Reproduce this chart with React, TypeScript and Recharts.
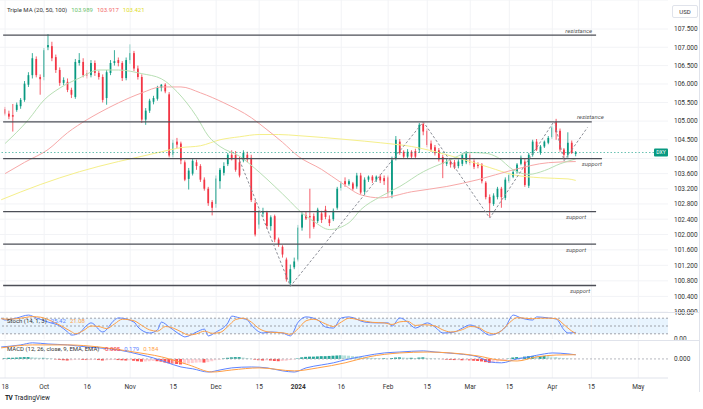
import React from "react";
import {
  Bar,
  CartesianGrid,
  Cell,
  ComposedChart,
  Line,
  ReferenceArea,
  ReferenceLine,
  XAxis,
  YAxis
} from "recharts";

const W = 703;
const PLOT_W = 668;
const AXIS_W = W - PLOT_W;
const X_DOMAIN: [number, number] = [-1.3, 169.6];
const GREEN = "#089981";
const RED = "#f23645";
const FONT = "Roboto, 'Noto Sans', sans-serif";

// daily DXY candles, one per weekday from Sep 18 2023: [open, high, low, close]
const candles: [number, number, number, number][] = [
  [105.32, 105.38, 105.15, 105.2], [105.2, 105.28, 105.05, 105.12], [105.16, 105.46, 104.72, 105.12],
  [105.3, 105.5, 105.25, 105.44], [105.4, 105.62, 105.33, 105.57], [105.57, 106.08, 105.52, 106.01],
  [105.98, 106.32, 105.92, 106.24], [106.24, 106.84, 106.15, 106.7], [106.68, 106.75, 106.18, 106.24],
  [106.19, 106.26, 105.71, 106.13], [106.19, 106.98, 106.1, 106.92], [107.0, 107.36, 106.92, 107.06],
  [107.03, 107.15, 106.62, 106.7], [106.73, 106.8, 106.3, 106.38], [106.38, 106.45, 105.95, 106.03],
  [106.03, 106.18, 105.97, 106.11], [106.06, 106.15, 105.78, 105.84], [105.84, 105.9, 105.62, 105.71],
  [105.65, 106.68, 105.6, 106.6], [106.57, 106.84, 106.5, 106.65], [106.6, 106.7, 106.18, 106.24],
  [106.3, 106.38, 106.15, 106.22], [106.24, 106.65, 106.18, 106.57], [106.57, 106.64, 106.22, 106.3],
  [106.3, 106.36, 106.12, 106.19], [106.19, 106.26, 105.5, 105.57], [105.62, 106.38, 105.44, 106.32],
  [106.3, 106.65, 106.24, 106.57], [106.57, 106.92, 106.5, 106.62], [106.65, 106.72, 106.48, 106.57],
  [106.57, 106.62, 106.08, 106.16], [106.16, 106.72, 106.1, 106.65], [106.65, 107.08, 106.55, 106.84],
  [106.84, 106.9, 106.35, 106.42], [106.42, 106.5, 106.12, 106.19], [106.19, 106.26, 104.95, 105.04],
  [105.04, 105.35, 104.9, 105.28], [105.28, 105.6, 105.22, 105.55], [105.52, 105.68, 105.45, 105.62],
  [105.6, 105.95, 105.55, 105.9], [105.9, 106.0, 105.8, 105.98], [105.98, 106.02, 105.75, 105.8],
  [105.72, 105.78, 104.03, 104.08], [104.1, 104.5, 104.03, 104.42], [104.45, 104.55, 104.28, 104.37],
  [104.4, 104.45, 103.85, 103.95], [103.9, 103.95, 103.4, 103.44], [103.46, 103.75, 103.18, 103.68],
  [103.6, 104.0, 103.55, 103.94], [103.9, 103.97, 103.7, 103.8], [103.8, 103.85, 103.38, 103.44],
  [103.44, 103.5, 103.15, 103.2], [103.2, 103.25, 102.75, 102.82], [102.85, 102.9, 102.5, 102.7],
  [102.8, 103.55, 102.7, 103.47], [103.4, 103.75, 103.2, 103.7], [103.62, 103.9, 103.55, 103.8],
  [103.85, 104.15, 103.8, 104.1], [104.1, 104.22, 103.95, 103.98], [104.1, 104.2, 103.65, 103.7],
  [103.9, 104.05, 103.5, 103.55], [103.95, 104.22, 103.9, 104.15], [104.1, 104.18, 103.9, 103.98],
  [104.02, 104.1, 102.85, 102.9], [102.82, 102.9, 101.95, 102.0], [102.26, 102.65, 102.15, 102.6],
  [102.55, 102.7, 102.45, 102.58], [102.58, 102.62, 102.15, 102.22], [102.22, 102.5, 102.1, 102.45],
  [102.48, 102.52, 101.8, 101.87], [101.87, 101.92, 101.68, 101.74], [101.68, 101.72, 101.4, 101.48],
  [101.35, 101.4, 100.78, 100.84], [100.74, 101.22, 100.66, 101.1], [101.15, 101.4, 101.1, 101.3],
  [101.35, 102.25, 101.3, 102.18], [102.18, 102.58, 102.1, 102.52], [102.5, 102.6, 102.38, 102.42],
  [102.48, 103.2, 101.9, 102.45], [102.48, 102.55, 102.15, 102.2], [102.35, 102.7, 102.3, 102.65],
  [102.55, 102.62, 102.3, 102.38], [102.65, 102.75, 102.4, 102.46], [102.4, 102.5, 102.22, 102.3],
  [102.4, 102.68, 102.35, 102.62], [102.7, 103.25, 102.65, 103.2], [103.22, 103.4, 103.15, 103.34],
  [103.4, 103.5, 103.25, 103.32], [103.32, 103.45, 103.28, 103.4], [103.34, 103.38, 103.15, 103.2],
  [103.26, 103.62, 103.2, 103.55], [103.55, 103.62, 103.05, 103.1], [103.12, 103.5, 103.05, 103.44],
  [103.44, 103.55, 103.38, 103.52], [103.52, 103.56, 103.35, 103.42], [103.44, 103.55, 103.38, 103.52],
  [103.52, 103.58, 103.35, 103.42], [103.48, 103.55, 103.3, 103.4], [103.5, 103.55, 102.98, 103.08],
  [103.05, 104.05, 102.95, 103.97], [104.0, 104.6, 103.95, 104.5], [104.45, 104.52, 104.1, 104.15],
  [104.18, 104.22, 104.0, 104.05], [104.05, 104.25, 104.0, 104.18], [104.18, 104.22, 104.0, 104.05],
  [104.2, 104.26, 104.0, 104.05], [104.24, 104.95, 104.15, 104.9], [104.92, 104.98, 104.62, 104.72],
  [104.74, 104.8, 104.3, 104.36], [104.4, 104.48, 104.18, 104.24], [104.3, 104.36, 104.08, 104.14],
  [104.22, 104.28, 103.92, 103.98], [104.04, 104.1, 103.48, 103.86], [103.86, 104.0, 103.8, 103.92],
  [103.92, 103.98, 103.76, 103.84], [103.9, 103.96, 103.72, 103.76], [103.8, 103.98, 103.74, 103.92],
  [103.86, 104.14, 103.8, 104.1], [103.9, 104.2, 103.85, 104.16], [104.1, 104.18, 103.82, 103.88],
  [103.92, 103.98, 103.72, 103.78], [103.84, 103.9, 103.74, 103.8], [103.84, 103.88, 103.34, 103.4],
  [103.36, 103.4, 102.92, 102.98], [102.98, 103.05, 102.45, 102.82], [102.8, 103.08, 102.75, 103.02],
  [102.98, 103.25, 102.92, 103.2], [103.2, 103.25, 102.7, 102.98], [102.96, 103.5, 102.9, 103.44],
  [103.4, 103.62, 103.35, 103.56], [103.52, 103.7, 103.48, 103.64], [103.64, 103.88, 103.6, 103.84],
  [103.86, 104.08, 103.82, 104.02], [103.92, 104.0, 103.25, 103.3], [103.28, 104.15, 103.22, 104.1],
  [104.1, 104.5, 104.05, 104.45], [104.45, 104.52, 104.2, 104.24], [104.16, 104.36, 104.1, 104.32],
  [104.32, 104.48, 104.28, 104.45], [104.42, 104.6, 104.38, 104.55], [104.57, 104.88, 104.52, 104.83],
  [104.97, 105.06, 104.5, 104.7], [104.74, 104.8, 104.18, 104.24], [104.24, 104.28, 103.97, 104.1],
  [104.1, 104.7, 104.02, 104.42], [104.42, 104.48, 104.12, 104.15], [104.12, 104.2, 104.06, 104.16]
];

// moving averages: [bar index, value]
const ma20Points: [number, number][] = [
  [0, 104.4], [6, 105.04], [10, 105.57], [14, 105.89], [19, 106.16], [24, 106.38], [29, 106.38],
  [35, 106.28], [40, 106.14], [44, 105.79], [49, 105.12], [52, 104.6], [55, 104.32], [60, 104.06],
  [65, 103.64], [69, 103.26], [73, 102.86], [75, 102.65], [79, 102.34], [83, 102.13], [88, 102.31],
  [91, 102.65], [96, 102.99], [101, 103.26], [107, 103.65], [113, 103.92], [119, 104.16],
  [123, 104.14], [126, 104.03], [130, 103.7], [134, 103.58], [138, 103.68], [142, 103.86], [146, 103.99]
];
const ma50Points: [number, number][] = [
  [0, 103.6], [5, 103.9], [11, 104.24], [16, 104.69], [21, 105.04], [24, 105.22], [29, 105.49],
  [35, 105.76], [40, 105.92], [45, 105.92], [50, 105.76], [56, 105.49], [63, 105.09], [67, 104.77],
  [71, 104.43], [75, 104.06], [81, 103.71], [86, 103.36], [91, 103.04], [96, 102.96], [104, 103.12],
  [113, 103.26], [121, 103.44], [130, 103.7], [139, 103.89], [146, 103.92]
];
const ma100Points: [number, number][] = [
  [-1, 102.91], [9, 103.31], [19, 103.65], [29, 103.92], [35, 104.06], [40, 104.18], [45, 104.29],
  [50, 104.34], [55, 104.5], [60, 104.58], [65, 104.64], [70, 104.64], [75, 104.61], [88, 104.5],
  [96, 104.42], [104, 104.32], [113, 104.1], [119, 103.92], [124, 103.76], [130, 103.57],
  [137, 103.49], [144, 103.46], [146, 103.42]
];
const zigzagPoints: [number, number][] = [
  [60, 103.95], [73, 100.66], [107, 104.98], [124, 102.43], [140.5, 105.0], [143, 103.94], [149, 104.83]
];

// horizontal support / resistance lines
const levelPrices = [107.33, 104.98, 104.0, 102.6, 101.75, 100.68];
const levelNames = ["resistance", "resistance", "support", "support", "support", "support"];
const levelEnds = [151.2, 150.1, 152.7, 151.2, 151.2, 151.2];
const levelLabelDx = [-4, 12, 0, -10, -10, -6];

const priceTicks = [
  100, 100.4, 100.8, 101.2, 101.6, 102, 102.4, 102.8, 103.2, 103.6, 104, 104.5, 105, 105.5, 106,
  106.5, 107, 107.5
];
const xTickIdx = [0, 10, 21, 32, 43, 54, 65, 75, 86, 98, 108, 119, 129, 140, 150, 162];
const xTickLabels = ["18", "Oct", "16", "Nov", "15", "Dec", "15", "2024", "16", "Feb", "15", "Mar", "15", "Apr", "15", "May"];

const stochK: [number, number][] = [
  [-1, 81], [0, 73], [3, 81], [6, 92], [8, 81], [11, 65], [14, 50], [16, 27], [17, 15], [19, 23],
  [21, 54], [22, 62], [25, 27], [28, 73], [29, 81], [33, 65], [34, 46], [37, 23], [39, 35], [40, 65],
  [42, 46], [45, 15], [46, 8], [49, 27], [51, 38], [52, 12], [54, 27], [57, 62], [58, 88], [60, 81],
  [62, 73], [63, 54], [66, 23], [68, 27], [71, 23], [73, 12], [75, 65], [77, 85], [80, 73], [82, 46],
  [84, 42], [86, 81], [88, 85], [92, 65], [95, 62], [98, 62], [99, 50], [101, 81], [103, 65], [105, 42],
  [108, 62], [110, 46], [112, 23], [115, 27], [117, 42], [119, 54], [121, 42], [124, 15], [126, 23],
  [128, 46], [130, 92], [132, 81], [135, 73], [136, 85], [139, 81], [141, 77], [143, 35], [144, 23],
  [146, 25.42]
];
const stochD: [number, number][] = [
  [-1, 78], [1, 76], [4, 80], [7, 86], [9, 84], [12, 68], [15, 45], [17, 28], [18, 20], [20, 32],
  [22, 50], [24, 48], [26, 40], [28, 58], [30, 76], [33, 70], [35, 52], [37, 35], [39, 30], [41, 48],
  [43, 42], [45, 28], [47, 15], [49, 20], [51, 30], [53, 22], [55, 25], [57, 48], [59, 75], [61, 80],
  [63, 65], [65, 40], [67, 28], [69, 25], [71, 24], [73, 18], [75, 40], [77, 70], [79, 76], [82, 58],
  [84, 48], [86, 65], [88, 80], [91, 72], [94, 64], [97, 62], [99, 56], [101, 66], [103, 68], [105, 52],
  [107, 55], [110, 50], [112, 35], [114, 27], [117, 36], [119, 48], [121, 45], [123, 28], [125, 20],
  [127, 32], [129, 62], [131, 82], [133, 80], [135, 78], [137, 80], [139, 80], [141, 78], [143, 55],
  [145, 30], [146, 21.08]
];

const macdLine: [number, number][] = [
  [-1, 0.52], [4, 0.61], [7, 0.7], [11, 0.65], [16, 0.61], [21, 0.52], [24, 0.48], [29, 0.39],
  [35, 0.17], [38, 0.04], [41, -0.13], [45, -0.35], [48, -0.43], [52, -0.57], [55, -0.48], [58, -0.39],
  [63, -0.35], [67, -0.39], [71, -0.52], [74, -0.57], [77, -0.39], [81, -0.26], [84, -0.17], [87, -0.04],
  [92, 0.13], [97, 0.26], [101, 0.3], [107, 0.35], [110, 0.3], [116, 0.22], [121, 0.09], [124, -0.13],
  [127, -0.17], [131, 0], [134, 0.09], [138, 0.22], [140, 0.26], [144, 0.22], [146, 0.179]
];
const macdSignal: [number, number][] = [
  [-1, 0.48], [7, 0.61], [16, 0.61], [24, 0.52], [33, 0.3], [40, 0.09], [47, -0.26], [53, -0.57],
  [58, -0.48], [65, -0.39], [74, -0.52], [80, -0.39], [87, -0.17], [93, 0.09], [101, 0.26], [108, 0.3],
  [114, 0.26], [121, 0.13], [126, -0.04], [131, -0.09], [136, 0.09], [141, 0.17], [146, 0.184]
];
// histogram, one value per bar
const macdHist = [
  0.04, 0.05, 0.05, 0.06, 0.07, 0.08, 0.08, 0.07, 0.06, 0.05,
  0.05, 0.04, 0.02, -0.02, -0.04, -0.06, -0.07, -0.06, -0.04, -0.03,
  -0.04, -0.05, -0.05, -0.04, -0.05, -0.07, -0.06, -0.05, -0.04, -0.05,
  -0.06, -0.07, -0.06, -0.08, -0.1, -0.12, -0.11, -0.1, -0.09, -0.1,
  -0.12, -0.16, -0.19, -0.21, -0.22, -0.24, -0.22, -0.2, -0.18, -0.16,
  -0.15, -0.16, -0.14, -0.1, -0.06, -0.03, 0.02, 0.05, 0.07, 0.08,
  0.08, 0.06, 0.04, 0.01, -0.03, -0.06, -0.07, -0.06, -0.07, -0.09,
  -0.1, -0.09, -0.08, -0.05, -0.02, 0.03, 0.07, 0.09, 0.1, 0.1,
  0.11, 0.12, 0.12, 0.13, 0.14, 0.15, 0.16, 0.15, 0.14, 0.12,
  0.11, 0.09, 0.07, 0.06, 0.05, 0.04, 0.03, 0.03, 0.02, 0.04,
  0.06, 0.07, 0.06, 0.05, 0.05, 0.04, 0.06, 0.07, 0.05, 0.03,
  0.02, 0.01, -0.01, -0.03, -0.04, -0.05, -0.05, -0.06, -0.06, -0.07,
  -0.08, -0.09, -0.11, -0.14, -0.17, -0.15, -0.12, -0.08, -0.04, 0.02,
  0.06, 0.08, 0.07, 0.1, 0.12, 0.13, 0.12, 0.12, 0.13, 0.12,
  0.1, 0.08, 0.05, 0.03, 0.02, 0.01, -0.005
];

const candleRows = candles.map(([o, h, l, c], i) => ({ i, o, h, l, c }));
const toRows = (pts: [number, number][]) => pts.map(([i, v]) => ({ i, v }));
const histRows = macdHist.map((h, i) => ({ i, h }));
const lastClose = candles[candles.length - 1][3];

const histColor = (k: number): string => {
  const h = macdHist[k];
  const prev = k > 0 ? macdHist[k - 1] : h;
  if (h >= 0) return h >= prev ? "#26a69a" : "#b2dfdb";
  return h < prev ? "#ff5252" : "#ffcdd2";
};

const Candle = (props: any) => {
  const { x, y, width, height, payload } = props;
  if (x == null || y == null) return null;
  const { o, h, l, c } = payload;
  const color = c >= o ? GREEN : RED;
  const span = Math.log(h) - Math.log(l);
  const at = (p: number) => (span > 0 ? y + (height * (Math.log(h) - Math.log(p))) / span : y);
  const top = at(Math.max(o, c));
  const bottom = at(Math.min(o, c));
  const cx = x + width / 2;
  return (
    <g>
      <line stroke={color} strokeWidth={0.8} x1={cx} x2={cx} y1={y} y2={y + height} />
      <rect fill={color} height={Math.max(bottom - top, 0.8)} width={width} x={x} y={top} />
    </g>
  );
};

const LevelLabel = (props: any) => {
  const { viewBox, text, dx, below } = props;
  if (!viewBox) return null;
  return (
    <text
      fill="#555"
      fontFamily={FONT}
      fontSize={6}
      fontStyle="italic"
      textAnchor="end"
      x={viewBox.x + viewBox.width + dx}
      y={below ? viewBox.y + 7.5 : viewBox.y - 2.5}
    >
      {text}
    </text>
  );
};

const PriceTag = (props: any) => {
  const { viewBox } = props;
  if (!viewBox) return null;
  const right = viewBox.x + viewBox.width;
  return (
    <g>
      <rect fill={GREEN} height={8} rx={1} width={14} x={right - 14} y={viewBox.y - 4} />
      <text fill="#fff" fontFamily={FONT} fontSize={5} textAnchor="middle" x={right - 7} y={viewBox.y + 1.8}>
        DXY
      </text>
    </g>
  );
};

const TimeTick = (props: any) => {
  const { x, y, payload } = props;
  const k = xTickIdx.indexOf(payload.value);
  const label = xTickLabels[k] ?? "";
  return (
    <text
      fill="#333"
      fontFamily={FONT}
      fontSize={6.5}
      fontWeight={label === "2024" ? 700 : 400}
      textAnchor="middle"
      x={x}
      y={y + 9}
    >
      {label}
    </text>
  );
};

const axisTick = { fontSize: 6.5, fill: "#333", fontFamily: FONT };

const MainPane = () => (
  <ComposedChart data={candleRows} height={312} margin={{ top: 0, right: 0, bottom: 0, left: 0 }} width={W}>
    <CartesianGrid stroke="#f2f3f6" vertical={false} />
    <XAxis allowDataOverflow dataKey="i" domain={X_DOMAIN} hide type="number" />
    <YAxis
      allowDataOverflow
      axisLine={false}
      domain={[100.0, 108.3]}
      interval={0}
      orientation="right"
      scale="log"
      tick={axisTick}
      tickFormatter={(v: number) => v.toFixed(3)}
      tickLine={false}
      tickMargin={6}
      tickSize={0}
      ticks={priceTicks}
      type="number"
      width={AXIS_W}
    />
    {xTickIdx.map((t) => (
      <ReferenceLine key={`g${t}`} stroke="#f2f3f6" x={t} />
    ))}
    <Line data={toRows(ma100Points)} dataKey="v" dot={false} isAnimationActive={false} stroke="#f5ef8a" strokeWidth={1} type="monotone" />
    <Line data={toRows(ma50Points)} dataKey="v" dot={false} isAnimationActive={false} stroke="#f7a8a8" strokeWidth={1} type="monotone" />
    <Line data={toRows(ma20Points)} dataKey="v" dot={false} isAnimationActive={false} stroke="#b8dfb4" strokeWidth={1} type="monotone" />
    <ReferenceLine label={<PriceTag />} stroke={GREEN} strokeDasharray="1.5 2" strokeOpacity={0.6} y={lastClose} />
    {levelPrices.map((p, k) => (
      <ReferenceLine
        key={`lv${k}`}
        label={<LevelLabel below={levelNames[k] === "support"} dx={levelLabelDx[k]} text={levelNames[k]} />}
        segment={[
          { x: -0.5, y: p },
          { x: levelEnds[k], y: p }
        ]}
        stroke="#4d4f57"
        strokeWidth={1.3}
      />
    ))}
    <Line
      data={toRows(zigzagPoints)}
      dataKey="v"
      dot={false}
      isAnimationActive={false}
      stroke="#8a8d96"
      strokeDasharray="2.5 2"
      strokeWidth={1}
      type="linear"
    />
    <Bar
      barSize={3}
      dataKey={(d: any) => [d.l, d.h]}
      isAnimationActive={false}
      shape={(p: any) => <Candle {...p} />}
    />
  </ComposedChart>
);

const StochPane = () => (
  <ComposedChart data={toRows(stochK)} height={30} margin={{ top: 2, right: 0, bottom: 2, left: 0 }} width={W}>
    <XAxis allowDataOverflow dataKey="i" domain={X_DOMAIN} hide type="number" />
    <YAxis
      axisLine={false}
      domain={[0, 100]}
      interval={0}
      orientation="right"
      tick={axisTick}
      tickFormatter={(v: number) => v.toFixed(2)}
      tickLine={false}
      tickMargin={6}
      tickSize={0}
      ticks={[0, 100]}
      type="number"
      width={AXIS_W}
    />
    {xTickIdx.map((t) => (
      <ReferenceLine key={`g${t}`} stroke="#f2f3f6" x={t} />
    ))}
    <ReferenceArea fill="#2196f3" fillOpacity={0.1} stroke="none" y1={20} y2={80} />
    {[80, 50, 20].map((v) => (
      <ReferenceLine key={`s${v}`} stroke="#8a8d96" strokeDasharray="2 2" strokeWidth={0.8} y={v} />
    ))}
    <Line data={toRows(stochK)} dataKey="v" dot={false} isAnimationActive={false} stroke="#5d84ff" strokeWidth={1} type="monotone" />
    <Line data={toRows(stochD)} dataKey="v" dot={false} isAnimationActive={false} stroke="#ff9f45" strokeWidth={1} type="monotone" />
  </ComposedChart>
);

const MacdPane = () => (
  <ComposedChart data={histRows} height={52} margin={{ top: 1, right: 0, bottom: 0, left: 0 }} width={W}>
    <XAxis
      allowDataOverflow
      axisLine={{ stroke: "#e0e3eb" }}
      dataKey="i"
      domain={X_DOMAIN}
      height={14}
      interval={0}
      tick={<TimeTick />}
      tickLine={false}
      tickSize={0}
      ticks={xTickIdx}
      type="number"
    />
    <YAxis
      allowDataOverflow
      axisLine={false}
      domain={[-0.83, 0.78]}
      interval={0}
      orientation="right"
      tick={axisTick}
      tickFormatter={(v: number) => v.toFixed(3)}
      tickLine={false}
      tickMargin={6}
      tickSize={0}
      ticks={[0]}
      type="number"
      width={AXIS_W}
    />
    {xTickIdx.map((t) => (
      <ReferenceLine key={`g${t}`} stroke="#f2f3f6" x={t} />
    ))}
    <ReferenceLine stroke="#a3a6af" strokeDasharray="2 2" strokeWidth={0.8} y={0} />
    <Bar barSize={3} dataKey="h" isAnimationActive={false}>
      {histRows.map((r) => (
        <Cell fill={histColor(r.i)} key={r.i} />
      ))}
    </Bar>
    <Line data={toRows(macdLine)} dataKey="v" dot={false} isAnimationActive={false} stroke="#5d84ff" strokeWidth={1} type="monotone" />
    <Line data={toRows(macdSignal)} dataKey="v" dot={false} isAnimationActive={false} stroke="#ff9f45" strokeWidth={1} type="monotone" />
  </ComposedChart>
);

const label = (color: string): React.CSSProperties => ({ color, marginLeft: 4 });

export default function App(): React.ReactElement {
  return (
    <div style={{ position: "relative", width: W, height: 409, background: "#fff", fontFamily: FONT, overflow: "hidden" }}>
      <style>{"body{margin:0}"}</style>
      <div style={{ position: "absolute", left: 0, top: 0 }}>
        <MainPane />
      </div>
      <div style={{ position: "absolute", left: 0, top: 311 }}>
        <StochPane />
      </div>
      <div style={{ position: "absolute", left: 0, top: 340 }}>
        <MacdPane />
      </div>
      <div style={{ position: "absolute", left: 0, top: 312, width: 700, height: 1, background: "#e0e3eb" }} />
      <div style={{ position: "absolute", left: 0, top: 340, width: 700, height: 1, background: "#e0e3eb" }} />
      <div style={{ position: "absolute", left: 699, top: 0, width: 1, height: 392, background: "#e0e3eb" }} />
      <div style={{ position: "absolute", left: 7, top: 6, fontSize: 6, color: "#333", whiteSpace: "nowrap" }}>
        Triple MA (20, 50, 100)
        <span style={label("#6cbf6c")}>103.989</span>
        <span style={label("#f26b6b")}>103.917</span>
        <span style={label("#e0dc2a")}>103.421</span>
      </div>
      <div style={{ position: "absolute", left: 672, top: 5, width: 24, height: 11, border: "1px solid #e0e3eb", borderRadius: 2, fontSize: 6, color: "#333", textAlign: "center", lineHeight: "11px" }}>
        USD
      </div>
      <div style={{ position: "absolute", left: 7, top: 317, fontSize: 6, color: "#333", whiteSpace: "nowrap" }}>
        Stoch (14, 1, 3)
        <span style={label("#5d84ff")}>25.42</span>
        <span style={label("#ff9f45")}>21.08</span>
      </div>
      <div style={{ position: "absolute", left: 7, top: 344.5, fontSize: 6, color: "#333", whiteSpace: "nowrap" }}>
        MACD (12, 26, close, 9, EMA, EMA)
        <span style={label("#f23645")}>-0.005</span>
        <span style={label("#5d84ff")}>0.179</span>
        <span style={label("#ff9f45")}>0.184</span>
      </div>
      <div style={{ position: "absolute", left: 5, top: 394, fontSize: 6.5, color: "#131722", whiteSpace: "nowrap" }}>
        <b style={{ letterSpacing: -0.6, marginRight: 2 }}>TV</b>TradingView
      </div>
    </div>
  );
}
